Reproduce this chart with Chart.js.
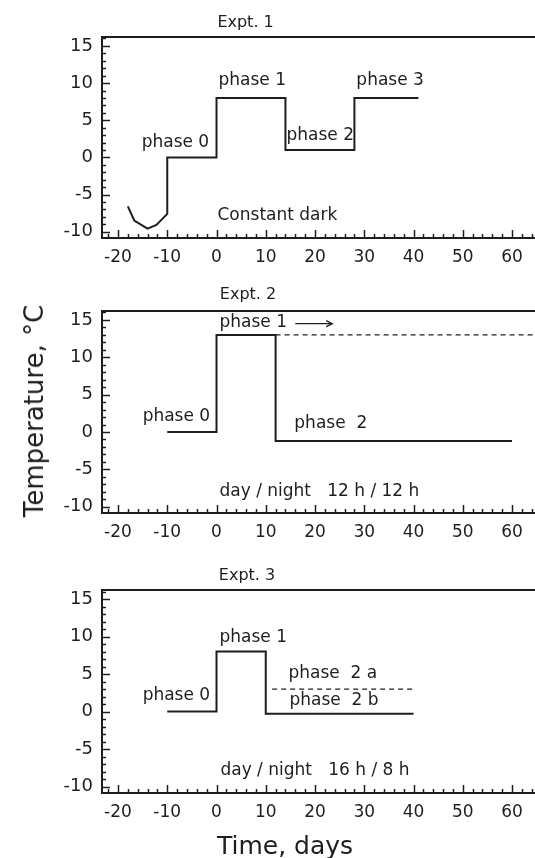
<!DOCTYPE html>
<html><head><meta charset="utf-8">
<script src="https://cdn.jsdelivr.net/npm/chart.js@4.4.0/dist/chart.umd.min.js"></script>
<style>
html,body{margin:0;padding:0;background:#fff;overflow:hidden;width:535px;height:858px;position:relative;}
canvas{position:absolute;left:0;}
.lbl{position:absolute;font-family:"DejaVu Sans",sans-serif;color:#1e1e1e;white-space:nowrap;transform-origin:center center;}
</style></head><body>
<canvas id="c1" width="545" height="280" style="top:0px"></canvas>
<canvas id="c2" width="545" height="280" style="top:280px"></canvas>
<canvas id="c3" width="545" height="298" style="top:560px"></canvas>
<div class="lbl" id="ylab" style="left:34px;top:411px;font-size:26px;transform:translate(-50%,-50%) rotate(-90deg);">Temperature, °C</div>
<div class="lbl" id="xlab" style="left:285px;top:845px;font-size:25px;transform:translate(-50%,-50%);">Time, days</div>
<script>
// ---- data ----
const xTickValues = [-20, -10, 0, 10, 20, 30, 40, 50, 60];
const yTickValues = [-10, -5, 0, 5, 10, 15];

// Expt. 1 (constant dark)
const e1Days = [-18, -16.7, -14, -12.2, -10, -10, 0, 0, 14, 14, 28, 28, 41];
const e1Temp = [-6.6, -8.5, -9.6, -9.1, -7.6, 0, 0, 8, 8, 1, 1, 8, 8];

// Expt. 2 (day/night 12 h / 12 h)
const e2Days = [-10, 0, 0, 12, 12, 60];
const e2Temp = [0, 0, 13, 13, -1.2, -1.2];
const e2DashDays = [12, 68];
const e2DashTemp = [13, 13];

// Expt. 3 (day/night 16 h / 8 h)
const e3Days = [-10, 0, 0, 10, 10, 40];
const e3Temp = [0, 0, 8, 8, -0.3, -0.3];
const e3DashDays = [11.3, 40];
const e3DashTemp = [3, 3];

const panelTitles = ["Expt. 1", "Expt. 2", "Expt. 3"];

// ---- helpers ----
const INK = '#1e1e1e';
const FONT = '"DejaVu Sans", sans-serif';
function pts(xs, ys) { return xs.map((x, i) => ({ x: x, y: ys[i] })); }

const framePlugin = {
  id: 'frame',
  afterDatasetsDraw(chart, args, opts) {
    const ctx = chart.ctx, a = chart.chartArea;
    const xs = chart.scales.x, ys = chart.scales.y;
    ctx.save();
    ctx.strokeStyle = INK; ctx.lineWidth = 2;
    ctx.strokeRect(a.left, a.top, a.right - a.left, a.bottom - a.top);
    ctx.lineWidth = 1.5;
    for (let v = -22; v <= 66; v += 2) {
      const px = Math.round(xs.getPixelForValue(v)) + 0.5;
      if (px <= a.left + 1 || px >= a.right) continue;
      const len = (v % 10 === 0) ? 8 : 4;
      ctx.beginPath(); ctx.moveTo(px, a.bottom); ctx.lineTo(px, a.bottom - len); ctx.stroke();
    }
    for (let v = -10; v <= 16; v += 1) {
      const py = Math.round(ys.getPixelForValue(v)) + 0.5;
      if (py >= a.bottom - 1 || py <= a.top) continue;
      const len = (v % 5 === 0) ? 8 : 4;
      ctx.beginPath(); ctx.moveTo(a.left, py); ctx.lineTo(a.left + len, py); ctx.stroke();
    }
    ctx.fillStyle = INK;
    ctx.font = '16px ' + FONT;
    ctx.textAlign = 'center'; ctx.textBaseline = 'middle';
    ctx.fillText(opts.title, xs.getPixelForValue(opts.titleX), a.top - opts.titleGap);
    ctx.font = '17px ' + FONT;
    ctx.textAlign = 'left';
    (opts.notes || []).forEach(n => {
      ctx.fillText(n.text, xs.getPixelForValue(n.x), ys.getPixelForValue(n.y));
    });
    if (opts.arrow) {
      const x0 = xs.getPixelForValue(opts.arrow.x0), x1 = xs.getPixelForValue(opts.arrow.x1);
      const y = ys.getPixelForValue(opts.arrow.y);
      ctx.lineWidth = 1.3;
      ctx.beginPath(); ctx.moveTo(x0, y); ctx.lineTo(x1, y); ctx.stroke();
      ctx.beginPath(); ctx.moveTo(x1 - 6, y - 3); ctx.lineTo(x1, y); ctx.lineTo(x1 - 6, y + 3); ctx.stroke();
    }
    ctx.restore();
  }
};

function makeChart(id, datasets, axisH, topPad, frameOpts) {
  return new Chart(document.getElementById(id), {
    type: 'line',
    data: { datasets: datasets },
    options: {
      responsive: false,
      animation: false,
      devicePixelRatio: 1,
      layout: { padding: { top: topPad, right: 0, left: 0, bottom: 0 } },
      plugins: { legend: { display: false }, tooltip: { enabled: false }, frame: frameOpts },
      elements: { point: { radius: 0 }, line: { tension: 0, borderColor: INK, borderWidth: 2, borderJoinStyle: 'miter' } },
      scales: {
        x: {
          type: 'linear', min: -23.25, max: 66.7,
          grid: { display: false, drawTicks: false }, border: { display: false },
          afterBuildTicks: s => { s.ticks = xTickValues.map(v => ({ value: v })); },
          afterFit: s => { s.height = axisH; },
          ticks: { color: INK, font: { family: FONT, size: 17 }, padding: 9, maxRotation: 0, autoSkip: false }
        },
        y: {
          type: 'linear', min: -10.85, max: 16.2,
          grid: { display: false, drawTicks: false }, border: { display: false },
          afterBuildTicks: s => { s.ticks = yTickValues.map(v => ({ value: v })); },
          afterFit: s => { s.width = 102; },
          ticks: { color: INK, font: { family: FONT, size: 18 }, padding: 9 }
        }
      }
    },
    plugins: [framePlugin]
  });
}

makeChart('c1', [
  { data: pts(e1Days, e1Temp), borderColor: INK, borderWidth: 2 }
], 42, 37, {
  title: panelTitles[0], titleX: 5.9, titleGap: 14,
  notes: [
    { text: 'phase 0', x: -15.2, y: 2.0 },
    { text: 'phase 1', x: 0.4, y: 10.4 },
    { text: 'phase 2', x: 14.2, y: 2.9 },
    { text: 'phase 3', x: 28.4, y: 10.4 },
    { text: 'Constant dark', x: 0.2, y: -7.8 }
  ]
});

makeChart('c2', [
  { data: pts(e2Days, e2Temp), borderColor: INK, borderWidth: 2 },
  { data: pts(e2DashDays, e2DashTemp), borderColor: INK, borderWidth: 1.3, borderDash: [5, 4] }
], 47, 31, {
  title: panelTitles[1], titleX: 6.4, titleGap: 16,
  notes: [
    { text: 'phase 0', x: -15.0, y: 2.1 },
    { text: 'phase 1', x: 0.6, y: 14.6 },
    { text: 'phase  2', x: 15.8, y: 1.1 },
    { text: 'day / night   12 h / 12 h', x: 0.6, y: -8.0 }
  ],
  arrow: { x0: 16, x1: 23.5, y: 14.5 }
});

makeChart('c3', [
  { data: pts(e3Days, e3Temp), borderColor: INK, borderWidth: 2 },
  { data: pts(e3DashDays, e3DashTemp), borderColor: INK, borderWidth: 1.3, borderDash: [5, 4] }
], 65, 30, {
  title: panelTitles[2], titleX: 6.2, titleGap: 14,
  notes: [
    { text: 'phase 0', x: -15.0, y: 2.1 },
    { text: 'phase 1', x: 0.6, y: 9.9 },
    { text: 'phase  2 a', x: 14.6, y: 5.0 },
    { text: 'phase  2 b', x: 14.8, y: 1.5 },
    { text: 'day / night   16 h / 8 h', x: 0.8, y: -7.8 }
  ]
});
</script>
</body></html>
